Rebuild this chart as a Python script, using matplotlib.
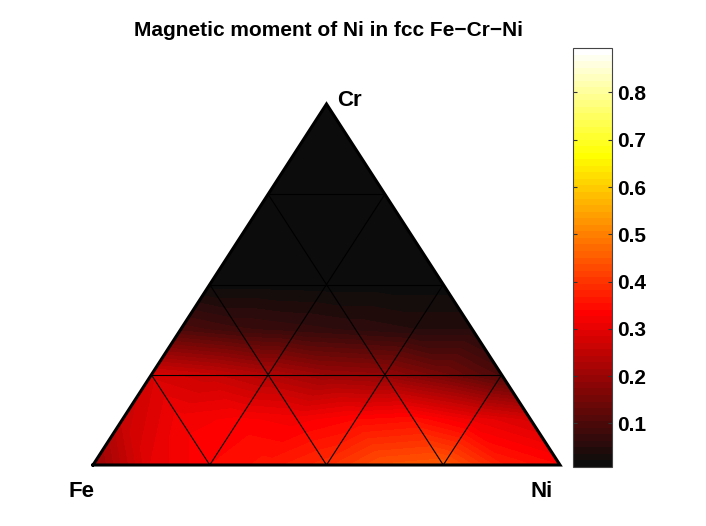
import numpy as np
import matplotlib
matplotlib.use("Agg")
import matplotlib.pyplot as plt
import matplotlib.tri as mtri
from matplotlib.colors import ListedColormap, Normalize
from matplotlib.cm import ScalarMappable

plt.rcParams['font.family'] = ['Liberation Sans', 'DejaVu Sans']
plt.rcParams['font.weight'] = 'bold'

title = "Magnetic moment of Ni in fcc Fe\u2212Cr\u2212Ni"
corner_labels = ["Fe", "Ni", "Cr"]
clim = (0.008, 0.894)
cbar_ticks = [0.1, 0.2, 0.3, 0.4, 0.5, 0.6, 0.7, 0.8]

# Magnetic moment values on a composition grid (Cr fraction j/8, Ni fraction i/8)
row_cr0 = [0.19, 0.30, 0.34, 0.36, 0.39, 0.44, 0.45, 0.37, 0.34]
row_cr1 = [0.26, 0.32, 0.33, 0.32, 0.34, 0.35, 0.31, 0.28]
row_cr2 = [0.28, 0.26, 0.23, 0.20, 0.19, 0.15, 0.10]
row_cr3 = [0.10, 0.08, 0.07, 0.06, 0.05, 0.05]
row_cr4 = [0.015, 0.015, 0.013, 0.013, 0.013]
row_cr5 = [0.01, 0.01, 0.01, 0.01]
row_cr6 = [0.01, 0.01, 0.01]
row_cr7 = [0.01, 0.01]
row_cr8 = [0.01]
rows = [row_cr0, row_cr1, row_cr2, row_cr3, row_cr4, row_cr5, row_cr6, row_cr7, row_cr8]

N = len(rows) - 1
H = np.sqrt(3) / 2

xs, ys, vs = [], [], []
idx = {}
for j, row in enumerate(rows):
    for i, v in enumerate(row):
        ni = i / N
        cr = j / N
        idx[(i, j)] = len(xs)
        xs.append(ni + cr / 2)
        ys.append(cr * H)
        vs.append(v)
tris = []
for j in range(N):
    for i in range(N - j):
        tris.append([idx[(i, j)], idx[(i + 1, j)], idx[(i, j + 1)]])
        if i + 1 <= N - j - 1:
            tris.append([idx[(i + 1, j)], idx[(i + 1, j + 1)], idx[(i, j + 1)]])
tri = mtri.Triangulation(xs, ys, tris)

# MATLAB-like hot(64) colormap, with a slight gray floor in the darkest shades
n = 64
n1 = int(3 * n / 8)
r = np.concatenate([np.arange(1, n1 + 1) / n1, np.ones(n - n1)])
g = np.concatenate([np.zeros(n1), np.arange(1, n1 + 1) / n1, np.ones(n - 2 * n1)])
b = np.concatenate([np.zeros(2 * n1), np.arange(1, n - 2 * n1 + 1) / (n - 2 * n1)])
rgb = np.column_stack([r, g, b])
floor = 0.05 * np.clip(1 - r, 0, 1)
rgb = np.maximum(rgb, floor[:, None])
cmap = ListedColormap(rgb)
norm = Normalize(*clim)

fig = plt.figure(figsize=(7.06, 5.26), dpi=100)
W, Hp = 706, 526
ax = fig.add_axes([93 / W, 61 / Hp, 467 / W, 361 / Hp])
levels = np.linspace(clim[0], clim[1], n + 1)
ax.tricontourf(tri, vs, levels=levels, cmap=cmap, norm=norm, antialiased=False)

# coarse mesh lines
for k in range(1, 4):
    f = k / 4
    ax.plot([f / 2, 1 - f / 2], [f * H, f * H], color='k', lw=0.8)
    ax.plot([f, f + (1 - f) / 2], [0, (1 - f) * H], color='k', lw=0.8)
    ax.plot([1 - f, (1 - f) / 2], [0, (1 - f) * H], color='k', lw=0.8)
ax.plot([0, 1, 0.5, 0], [0, 0, H, 0], color='k', lw=2.2, solid_joinstyle='miter', clip_on=False)
ax.set_xlim(0, 1)
ax.set_ylim(0, H)
ax.axis('off')

fs_lab = 16
fig.text(337 / W, 1 - 100 / Hp, corner_labels[2], ha='left', va='center', fontsize=fs_lab, fontweight='bold')
fig.text(95 / W, 1 - 497 / Hp, corner_labels[0], ha='right', va='baseline', fontsize=fs_lab, fontweight='bold')
fig.text(530 / W, 1 - 497 / Hp, corner_labels[1], ha='left', va='baseline', fontsize=fs_lab, fontweight='bold')
fig.text(328.5 / W, 1 - 36 / Hp, title, ha='center', va='baseline', fontsize=15, fontweight='bold')

cax = fig.add_axes([572.7 / W, 59 / Hp, 39.6 / W, 419 / Hp])
sm = ScalarMappable(norm=norm, cmap=cmap)
cb = fig.colorbar(sm, cax=cax, ticks=cbar_ticks)
cb.outline.set_edgecolor('#444444')
cb.outline.set_linewidth(0.8)
cax.tick_params(direction='in', left=True, right=True, length=3, width=0.8, color='#333333', labelsize=15)
cax.set_yticklabels([f"{t:.1f}" for t in cbar_ticks], fontweight='bold')

fig.savefig("out.png", dpi=100)
